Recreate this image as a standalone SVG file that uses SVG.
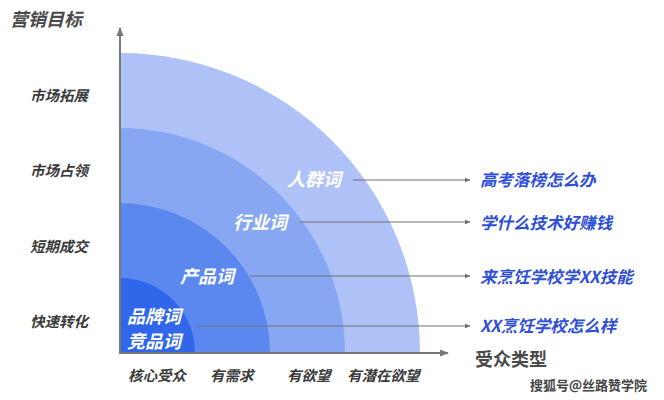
<svg xmlns="http://www.w3.org/2000/svg" width="664" height="400" viewBox="0 0 664 400">
<defs>
<style>
text{font-family:"Noto Sans CJK SC","Liberation Sans",sans-serif;font-weight:bold}
.ax{font-size:14.5px;fill:#3a3a3a;font-style:italic}
.t{font-size:18px;fill:#4a4a4a;font-style:italic}
.w{font-size:18px;fill:#ffffff;font-style:italic}
.b{font-size:16.5px;fill:#2f4fd6;font-style:italic}
.bt{font-size:14.5px;fill:#3a3a3a;font-style:italic}
.ln{stroke:#707070;stroke-width:1;fill:none}
.axis{stroke:#777;stroke-width:2;fill:none}
</style>
<marker id="ah" viewBox="0 0 10 10" refX="9" refY="5" markerWidth="6" markerHeight="6" orient="auto" markerUnits="userSpaceOnUse"><path d="M0,1 L10,5 L0,9 Z" fill="#707070"/></marker>
<marker id="ax" viewBox="0 0 10 10" refX="9" refY="5" markerWidth="9" markerHeight="9" orient="auto" markerUnits="userSpaceOnUse"><path d="M0,1 L10,5 L0,9 Z" fill="#777"/></marker>
</defs>
<rect width="664" height="400" fill="#ffffff"/>
<g id="rings">
<path id="ring4" d="M120,353 L120,53 A300,300 0 0 1 420,353 Z" fill="#aec2f8"/>
<path id="ring3" d="M120,353 L120,128 A225,225 0 0 1 345,353 Z" fill="#87a7f3"/>
<path id="ring2" d="M120,353 L120,203 A150,150 0 0 1 270,353 Z" fill="#5b88ef"/>
<path id="ring1" d="M120,353 L120,278 A75,75 0 0 1 195,353 Z" fill="#2f66ea"/>
</g>
<g id="axes">
<line class="axis" x1="120" y1="354" x2="120" y2="28" marker-end="url(#ax)"/>
<line class="axis" x1="119" y1="353" x2="448" y2="353" marker-end="url(#ax)"/>
</g>
<g id="connectors">
<line class="ln" x1="353" y1="180" x2="470" y2="180" marker-end="url(#ah)"/>
<line class="ln" x1="300" y1="222" x2="470" y2="222" marker-end="url(#ah)"/>
<line class="ln" x1="250" y1="276" x2="470" y2="276" marker-end="url(#ah)"/>
<line class="ln" x1="197" y1="326" x2="470" y2="326" marker-end="url(#ah)"/>
</g>
<g id="title"><text class="t" x="10" y="26">营销目标</text></g>
<g id="yaxis-labels">
<text class="ax" x="30" y="101">市场拓展</text>
<text class="ax" x="30" y="176">市场占领</text>
<text class="ax" x="30" y="252">短期成交</text>
<text class="ax" x="30" y="327">快速转化</text>
</g>
<g id="ring-labels">
<text class="w" x="287" y="186">人群词</text>
<text class="w" x="233" y="229">行业词</text>
<text class="w" x="180" y="283">产品词</text>
<text class="w" x="127" y="323">品牌词</text>
<text class="w" x="127" y="348">竞品词</text>
</g>
<g id="right-labels">
<text class="b" x="480" y="186">高考落榜怎么办</text>
<text class="b" x="480" y="229">学什么技术好赚钱</text>
<text class="b" x="480" y="283">来烹饪学校学XX技能</text>
<text class="b" x="480" y="332">XX烹饪学校怎么样</text>
</g>
<g id="xaxis-labels">
<text class="bt" x="128" y="381">核心受众</text>
<text class="bt" x="210" y="381">有需求</text>
<text class="bt" x="287" y="381">有欲望</text>
<text class="bt" x="347" y="381">有潜在欲望</text>
<text x="475" y="366" style="font-size:18px;fill:#4a4a4a">受众类型</text>
</g>
<g id="watermark"><text x="530" y="390" style="font-size:13px;fill:#444;font-weight:bold">搜狐号@丝路赞学院</text></g>
</svg>
